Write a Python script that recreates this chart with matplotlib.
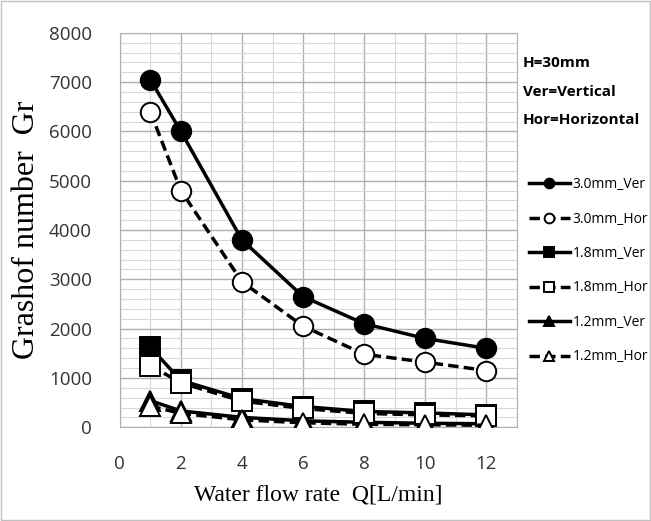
import matplotlib
matplotlib.use("Agg")
from matplotlib import pyplot as plt
from matplotlib.ticker import MultipleLocator

# data
flow = [1, 2, 4, 6, 8, 10, 12]
gr_30_ver = [7050, 6000, 3800, 2650, 2100, 1800, 1600]
gr_30_hor = [6400, 4800, 2950, 2050, 1480, 1320, 1150]
gr_18_ver = [1620, 950, 580, 420, 320, 290, 250]
gr_18_hor = [1250, 900, 530, 380, 280, 250, 230]
gr_12_ver = [540, 330, 200, 130, 100, 80, 70]
gr_12_hor = [430, 280, 150, 90, 60, 50, 40]
labels = ["3.0mm_Ver", "3.0mm_Hor", "1.8mm_Ver", "1.8mm_Hor", "1.2mm_Ver", "1.2mm_Hor"]

sans = "Open Sans"

fig = plt.figure(figsize=(6.51, 5.21), dpi=100)
ax = fig.add_axes([0.184, 0.18, 0.61, 0.757])

series = [gr_30_ver, gr_30_hor, gr_18_ver, gr_18_hor, gr_12_ver, gr_12_hor]
markers = ["o", "o", "s", "s", "^", "^"]
for i, (ys, lab) in enumerate(zip(series, labels)):
    filled = (i % 2 == 0)
    ls = "-" if filled else (0, (3, 1.5))
    ax.plot(flow, ys, linestyle=ls, color="black", lw=2.5,
            marker=markers[i], markersize=14 if markers[i] != "^" else 15,
            markerfacecolor="black" if filled else "white",
            markeredgecolor="black", markeredgewidth=1.4, label=lab,
            zorder=3 + (0 if filled else 1))

ax.set_xlim(0, 13)
ax.set_ylim(0, 8000)
ax.xaxis.set_major_locator(MultipleLocator(2))
ax.xaxis.set_minor_locator(MultipleLocator(1))
ax.yaxis.set_major_locator(MultipleLocator(1000))
ax.yaxis.set_minor_locator(MultipleLocator(200))
ax.grid(which="major", color="#b0b0b0", lw=1.0)
ax.grid(which="minor", color="#d8d8d8", lw=0.8)
ax.set_axisbelow(True)
for s in ax.spines.values():
    s.set_color("#b0b0b0")
ax.tick_params(which="both", length=0, labelsize=13.5, pad=20)
for t in ax.get_xticklabels() + ax.get_yticklabels():
    t.set_family(sans)
    t.set_color("#333333")

ax.set_xlabel("Water flow rate  Q[L/min]", family="Liberation Serif", fontsize=17, labelpad=8)
ax.set_ylabel("Grashof number  Gr", family="Liberation Serif", fontsize=23, labelpad=6)

fig.text(0.803, 0.879, "H=30mm", fontsize=11, fontweight="bold", family=sans, va="center")
fig.text(0.803, 0.823, "Ver=Vertical", fontsize=11, fontweight="bold", family=sans, va="center")
fig.text(0.803, 0.770, "Hor=Horizontal", fontsize=11, fontweight="bold", family=sans, va="center")

handles, labs = ax.get_legend_handles_labels()
leg = fig.legend(handles, labs, loc="upper left", bbox_to_anchor=(0.812, 0.66),
                 frameon=False, handlelength=3.0, labelspacing=1.4,
                 handletextpad=0.15, markerscale=0.5, borderpad=0, borderaxespad=0,
                 prop={"family": sans, "size": 10})

# thin border around the whole figure
fig.patches.append(plt.Rectangle((0.002, 0.002), 0.996, 0.996, transform=fig.transFigure,
                                 fill=False, edgecolor="#c0c0c0", lw=1))

fig.savefig("out.png", dpi=100)
